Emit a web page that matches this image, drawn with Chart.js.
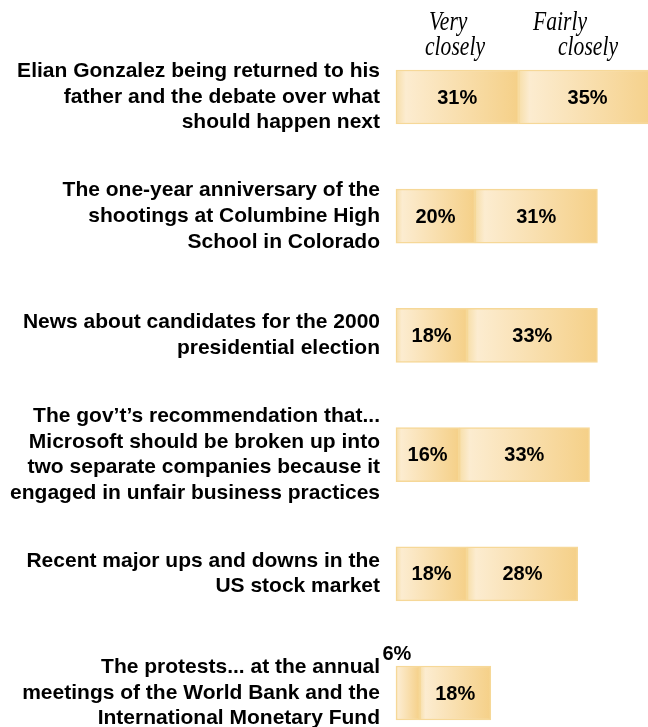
<!DOCTYPE html>
<html>
<head>
<meta charset="utf-8">
<script src="https://cdn.jsdelivr.net/npm/chart.js@4.4.1/dist/chart.umd.min.js"></script>
<style>
    html, body { margin: 0; padding: 0; background: #fff; }
    #wrap { position: relative; width: 648px; height: 727px; }
</style>
</head>
<body>
<div id="wrap"><canvas id="news-interest-bar"></canvas></div>
<script>
const topics = [
    ["Elian Gonzalez being returned to his", "father and the debate over what", "should happen next"],
    ["The one-year anniversary of the", "shootings at Columbine High", "School in Colorado"],
    ["News about candidates for the 2000", "presidential election"],
    ["The gov\u2019t\u2019s recommendation that...", "Microsoft should be broken up into", "two separate companies because it", "engaged in unfair business practices"],
    ["Recent major ups and downs in the", "US stock market"],
    ["The protests... at the annual", "meetings of the World Bank and the", "International Monetary Fund"]
];
const very_closely = [31, 20, 18, 16, 18, 6];
const fairly_closely = [35, 31, 33, 33, 28, 18];
const series_names = [["Very", "closely"], ["Fairly", "closely"]];

window.addEventListener("DOMContentLoaded", () => {

    // gradient fill per segment, light on the left, darker on the right
    function segmentFill(ctx) {
        const chart = ctx.chart;
        if (!chart.chartArea || ctx.dataIndex === undefined) return "#f8dfa8";
        const x = chart.scales.x;
        const start = ctx.datasetIndex === 0 ? 0 : very_closely[ctx.dataIndex];
        const end = start + ctx.raw;
        const x0 = x.getPixelForValue(start);
        const x1 = x.getPixelForValue(end);
        const g = chart.ctx.createLinearGradient(x0, 0, x1, 0);
        g.addColorStop(0, "#f7dea8");
        g.addColorStop(0.08, "#fcecd0");
        g.addColorStop(1, "#f5d088");
        return g;
    }

    // value labels inside the bars, small values sit above
    const value_labels = {
        id: "valueLabels",
        afterDatasetsDraw(chart) {
            const ctx = chart.ctx;
            ctx.save();
            ctx.font = "bold 20px 'Liberation Sans', Arial, sans-serif";
            ctx.fillStyle = "#000";
            ctx.textAlign = "center";
            ctx.textBaseline = "middle";
            chart.data.datasets.forEach((ds, di) => {
                chart.getDatasetMeta(di).data.forEach((bar, i) => {
                    const v = ds.data[i];
                    const cx = (bar.x + bar.base) / 2;
                    if (v < 10) {
                        ctx.fillText(v + "%", cx - 11, bar.y - bar.height / 2 - 12);
                    } else {
                        ctx.fillText(v + "%", cx, bar.y + 1);
                    }
                });
            });
            ctx.restore();
        }
    };

    // column headings above the bars
    const headings = {
        id: "headings",
        afterDraw(chart) {
            const ctx = chart.ctx;
            const left = chart.chartArea.left;
            const pos = [[[33, 30], [29, 55]], [[137, 30], [162, 55]]];
            ctx.save();
            ctx.fillStyle = "#000";
            ctx.textAlign = "left";
            ctx.textBaseline = "alphabetic";
            ctx.font = "italic 27px 'Liberation Serif', 'Times New Roman', serif";
            series_names.forEach((lines, s) => {
                lines.forEach((t, j) => {
                    ctx.save();
                    ctx.translate(left + pos[s][j][0], pos[s][j][1]);
                    ctx.scale(0.8, 1);
                    ctx.fillText(t, 0, 0);
                    ctx.restore();
                });
            });
            ctx.restore();
        }
    };

    const bar_data = {
        labels: topics,
        datasets: [{
            label: "Very closely",
            data: very_closely,
            backgroundColor: segmentFill,
            borderColor: "#f6d898",
            borderWidth: 1.5,
            borderSkipped: false,
            barThickness: 54,
            clip: false
        },
        {
            label: "Fairly closely",
            data: fairly_closely,
            backgroundColor: segmentFill,
            borderColor: "#f6d898",
            borderWidth: 1.5,
            borderSkipped: false,
            barThickness: 54,
            clip: false
        }]
    };

    const config_bar = {
        type: "bar",
        data: bar_data,
        options: {
            indexAxis: "y",
            responsive: true,
            maintainAspectRatio: false,
            animation: false,
            layout: {
                padding: { top: 97, bottom: 34, left: 0, right: 0 }
            },
            plugins: {
                legend: { display: false },
                tooltip: { enabled: false }
            },
            scales: {
                x: {
                    stacked: true,
                    display: false,
                    min: 0,
                    max: 63.8
                },
                y: {
                    stacked: true,
                    offset: false,
                    grid: { display: false },
                    border: { display: false },
                    afterFit(scale) {
                        scale.width = 396;
                        scale.paddingTop = 0;      // labels may spill past the chart area
                        scale.paddingBottom = 0;
                    },
                    ticks: {
                        color: "#000",
                        padding: 8,
                        font: {
                            family: "'Liberation Sans', Arial, sans-serif",
                            size: 21,
                            weight: "bold",
                            lineHeight: 1.22
                        }
                    }
                }
            }
        },
        plugins: [value_labels, headings]
    };

    new Chart(document.getElementById("news-interest-bar").getContext("2d"), config_bar);
});
</script>
</body>
</html>
